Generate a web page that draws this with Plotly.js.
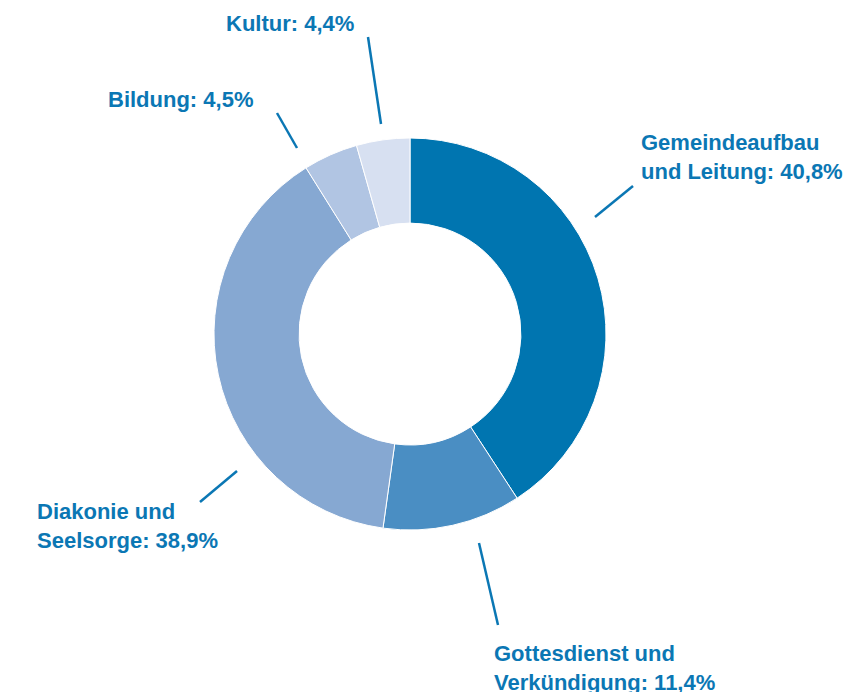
<!DOCTYPE html>
<html>
<head>
<meta charset="utf-8">
<script src="https://cdn.plot.ly/plotly-3.0.1.min.js"></script>
<style>html,body{margin:0;padding:0;background:#fff;}#chart{width:855px;height:692px;}</style>
</head>
<body>
<div id="chart"></div>
<script>
const categories = ["Gemeindeaufbau und Leitung", "Gottesdienst und Verkündigung", "Diakonie und Seelsorge", "Bildung", "Kultur"];
const values = [40.8, 11.4, 38.9, 4.5, 4.4];
const labelTexts = ["Gemeindeaufbau<br>und Leitung: 40,8%", "Gottesdienst und<br>Verkündigung: 11,4%", "Diakonie und<br>Seelsorge: 38,9%", "Bildung: 4,5%", "Kultur: 4,4%"];
const colors = ["#0075b0", "#4a8ec3", "#86a8d2", "#b1c5e3", "#d7e0f1"];

const W = 855, H = 692;
const cx = 410, cy = 334, R = 196;
const txtColor = "#0b77b4";

// label anchor positions (pixels) and leader lines (pixels)
const labelPos = [[639, 157], [492, 668], [35, 526], [106, 100], [224, 23]];
const leaders = [[[633, 186], [595, 217]], [[479, 543], [498, 625]], [[237, 471], [200, 502]], [[277, 113], [297, 148]], [[368, 37], [381, 124]]];

const px = x => x / W, py = y => 1 - y / H;

const trace = {
  type: "pie",
  labels: categories,
  values: values,
  sort: false,
  direction: "clockwise",
  rotation: 0,
  hole: 0.566,
  textinfo: "none",
  hoverinfo: "label+value",
  marker: {colors: colors, line: {color: "#ffffff", width: 1}},
  domain: {x: [px(cx - R), px(cx + R)], y: [py(cy + R), py(cy - R)]},
  showlegend: false
};

const annotations = labelTexts.map((t, i) => ({
  text: t, xref: "paper", yref: "paper",
  x: px(labelPos[i][0]), y: py(labelPos[i][1]),
  xanchor: "left", yanchor: "middle", align: "left", showarrow: false,
  font: {family: "Liberation Sans, Arial, sans-serif", size: 22, color: txtColor, weight: "bold"}
}));

const shapes = leaders.map(l => ({
  type: "line", xref: "paper", yref: "paper",
  x0: px(l[0][0]), y0: py(l[0][1]), x1: px(l[1][0]), y1: py(l[1][1]),
  line: {color: txtColor, width: 2.5}
}));

Plotly.newPlot("chart", [trace], {
  width: W, height: H,
  margin: {l: 0, r: 0, t: 0, b: 0},
  paper_bgcolor: "#ffffff",
  annotations: annotations,
  shapes: shapes
}, {displayModeBar: false, staticPlot: true});
</script>
</body>
</html>
